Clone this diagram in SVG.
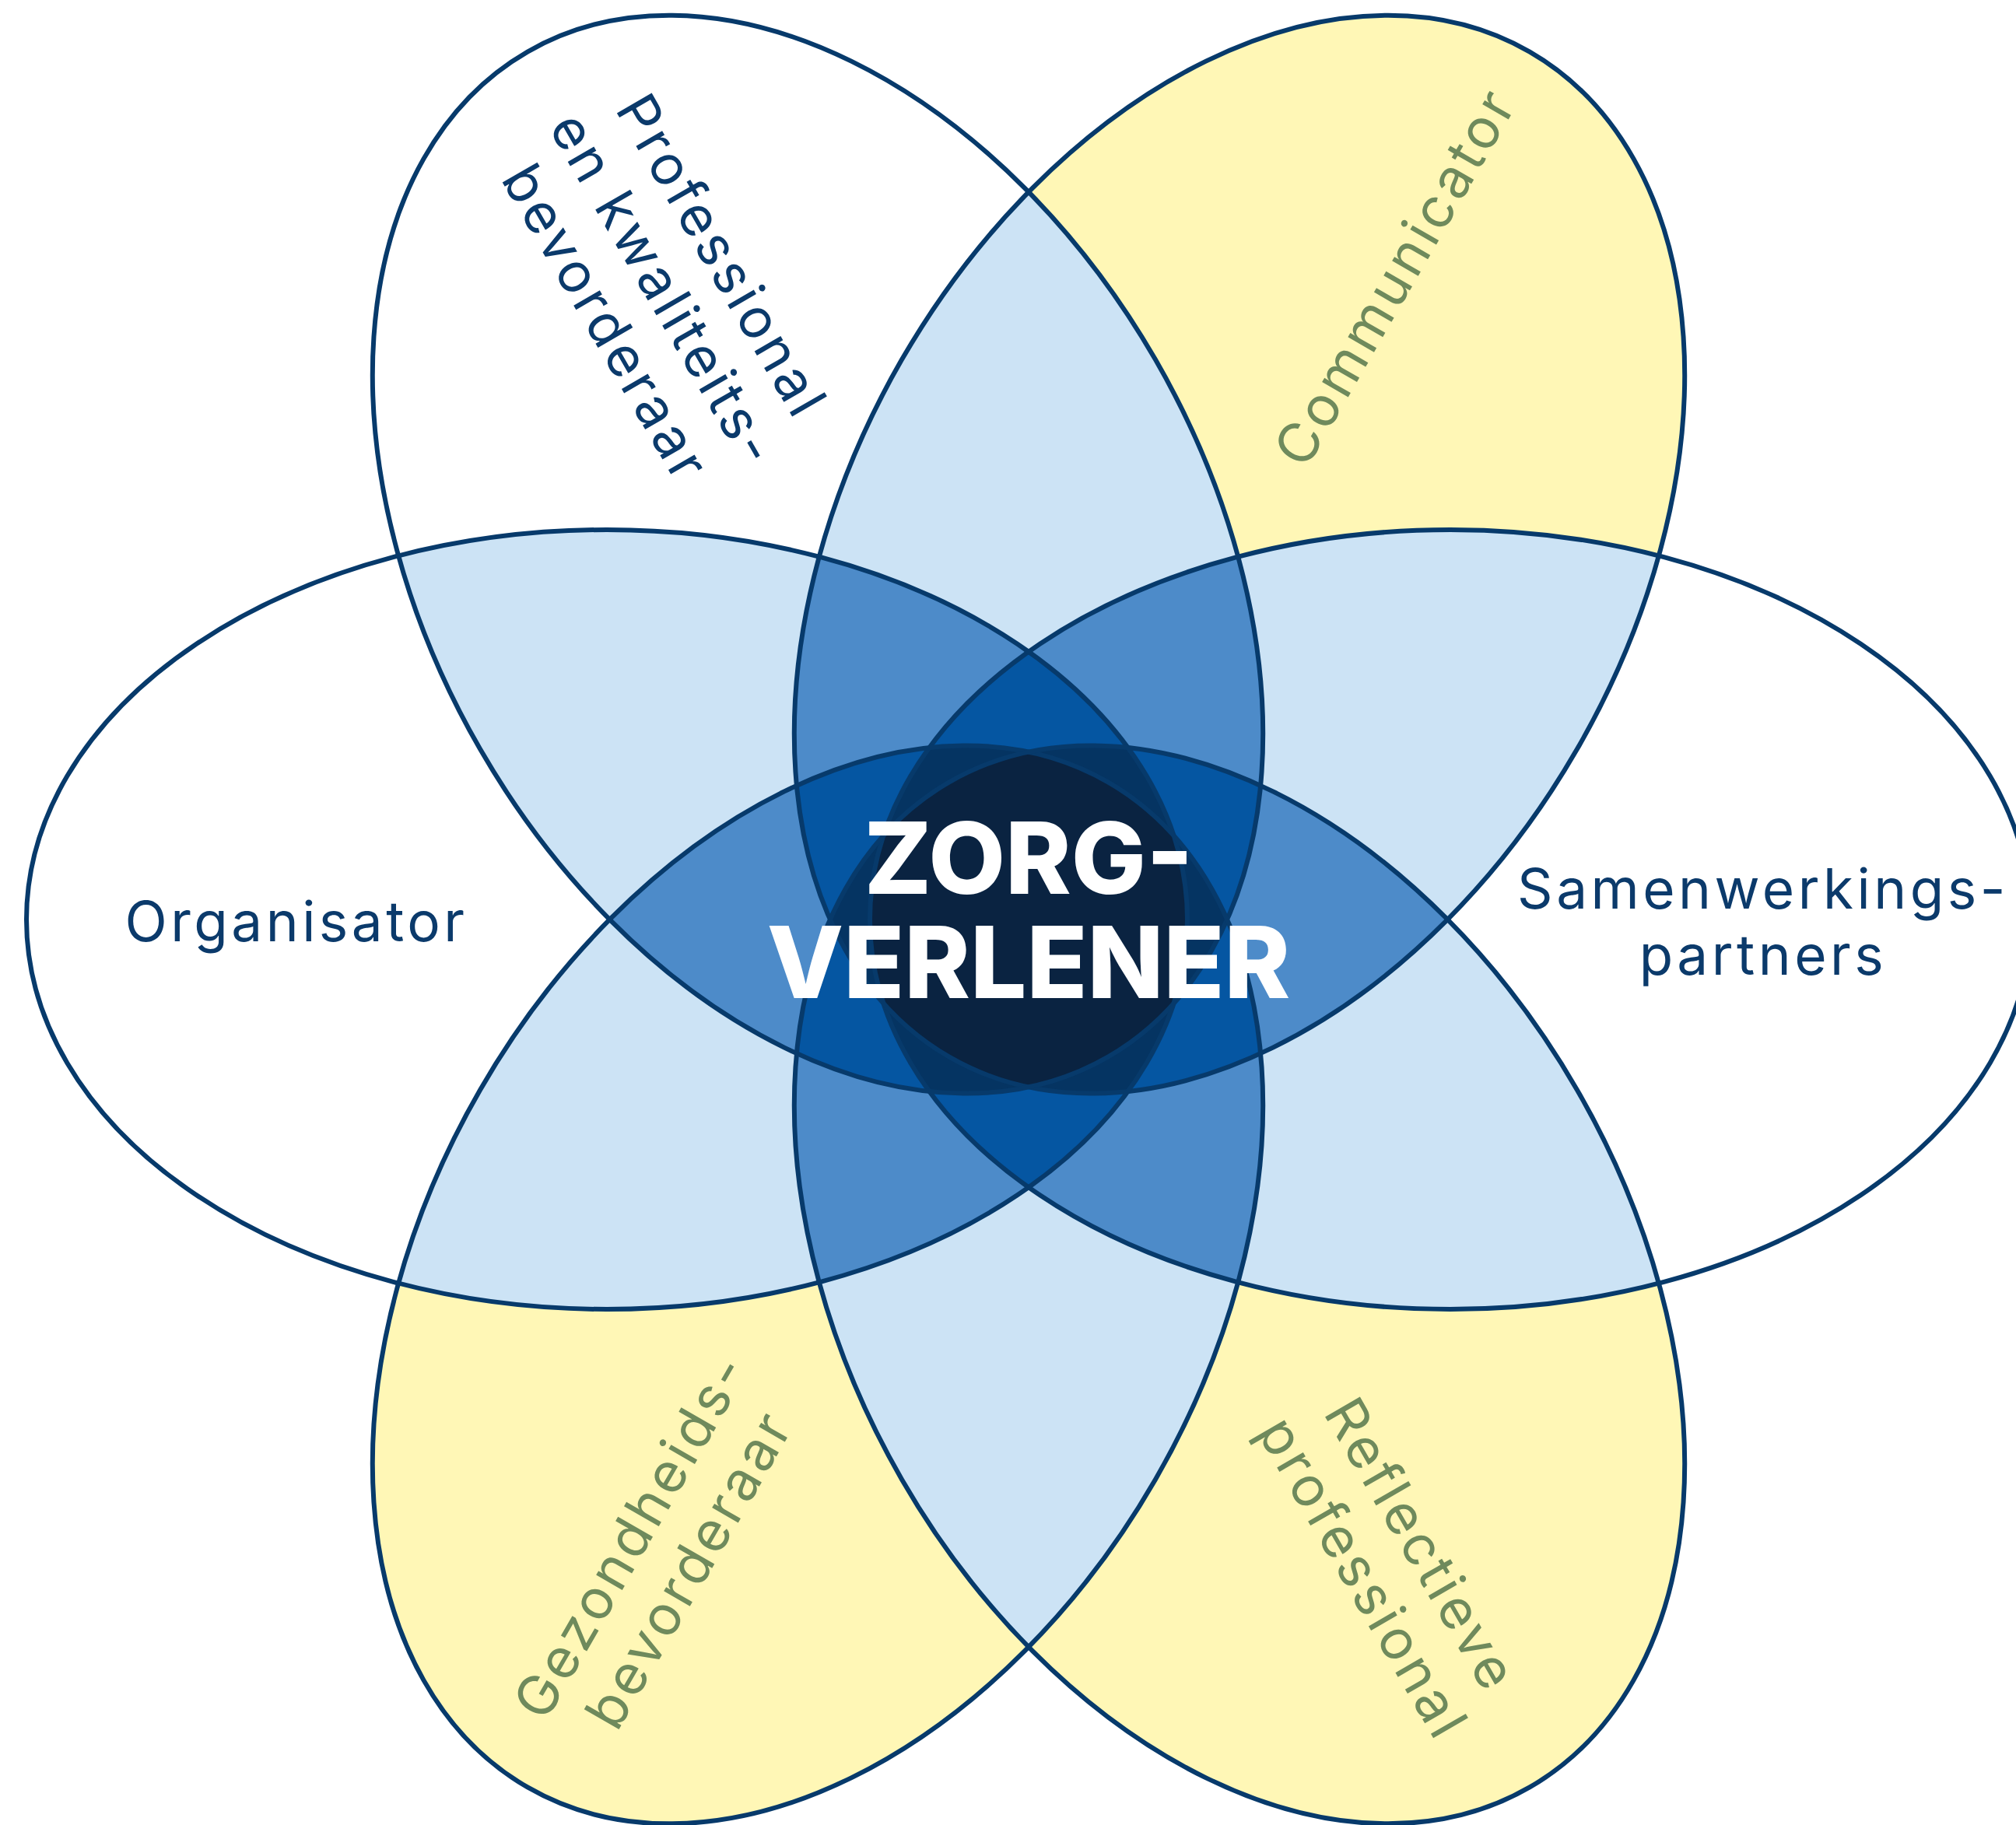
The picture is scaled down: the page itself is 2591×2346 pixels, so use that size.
<svg xmlns="http://www.w3.org/2000/svg" width="2591" height="2346" viewBox="0 0 2591 2346">
<style>
.w{fill:#ffffff}
.y{fill:#fff7b6}
.l2{fill:#cce3f5}
.l3{fill:#4d8bc9}
.l4{fill:#0556a2}
.l5{fill:#053462}
.l6{fill:#0a2341}
.ol{fill:none;stroke:#073a6b;stroke-width:6}
.lbl{font-family:Inter,"Noto Sans",sans-serif;font-size:71px;letter-spacing:4.5px;text-anchor:middle}
.navy{fill:#0b3a6b}
.green{fill:#6f8a5c}
.ctr{font-family:Inter,"Noto Sans",sans-serif;font-weight:800;font-size:128px;fill:#ffffff;text-anchor:middle}
</style>
<defs>
<ellipse id="e0" rx="746" ry="501" transform="translate(1864 1182)"/>
<ellipse id="e1" rx="746" ry="501" transform="translate(1593 712.61) rotate(-60)"/>
<ellipse id="e2" rx="746" ry="501" transform="translate(1051 712.61) rotate(60)"/>
<ellipse id="e3" rx="746" ry="501" transform="translate(780 1182)"/>
<ellipse id="e4" rx="746" ry="501" transform="translate(1051 1651.39) rotate(-60)"/>
<ellipse id="e5" rx="746" ry="501" transform="translate(1593 1651.39) rotate(60)"/>
<clipPath id="c0"><use href="#e0"/></clipPath>
<clipPath id="c1"><use href="#e1"/></clipPath>
<clipPath id="c2"><use href="#e2"/></clipPath>
<clipPath id="c3"><use href="#e3"/></clipPath>
<clipPath id="c4"><use href="#e4"/></clipPath>
<clipPath id="c5"><use href="#e5"/></clipPath>
</defs>
<rect width="2591" height="2346" fill="#ffffff"/>
<g id="petal-fills">
<use href="#e0" class="w"/>
<use href="#e1" class="y"/>
<use href="#e2" class="w"/>
<use href="#e3" class="w"/>
<use href="#e4" class="y"/>
<use href="#e5" class="y"/>
</g>
<g id="overlaps">
<g class="l2">
<use href="#e1" clip-path="url(#c0)"/>
<use href="#e2" clip-path="url(#c0)"/>
<use href="#e3" clip-path="url(#c0)"/>
<use href="#e4" clip-path="url(#c0)"/>
<use href="#e5" clip-path="url(#c0)"/>
<use href="#e2" clip-path="url(#c1)"/>
<use href="#e3" clip-path="url(#c1)"/>
<use href="#e4" clip-path="url(#c1)"/>
<use href="#e5" clip-path="url(#c1)"/>
<use href="#e3" clip-path="url(#c2)"/>
<use href="#e4" clip-path="url(#c2)"/>
<use href="#e5" clip-path="url(#c2)"/>
<use href="#e4" clip-path="url(#c3)"/>
<use href="#e5" clip-path="url(#c3)"/>
<use href="#e5" clip-path="url(#c4)"/>
</g>
<g class="l3">
<g clip-path="url(#c0)"><use href="#e2" clip-path="url(#c1)"/></g>
<g clip-path="url(#c0)"><use href="#e3" clip-path="url(#c1)"/></g>
<g clip-path="url(#c0)"><use href="#e4" clip-path="url(#c1)"/></g>
<g clip-path="url(#c0)"><use href="#e5" clip-path="url(#c1)"/></g>
<g clip-path="url(#c0)"><use href="#e3" clip-path="url(#c2)"/></g>
<g clip-path="url(#c0)"><use href="#e4" clip-path="url(#c2)"/></g>
<g clip-path="url(#c0)"><use href="#e5" clip-path="url(#c2)"/></g>
<g clip-path="url(#c0)"><use href="#e4" clip-path="url(#c3)"/></g>
<g clip-path="url(#c0)"><use href="#e5" clip-path="url(#c3)"/></g>
<g clip-path="url(#c0)"><use href="#e5" clip-path="url(#c4)"/></g>
<g clip-path="url(#c1)"><use href="#e3" clip-path="url(#c2)"/></g>
<g clip-path="url(#c1)"><use href="#e4" clip-path="url(#c2)"/></g>
<g clip-path="url(#c1)"><use href="#e5" clip-path="url(#c2)"/></g>
<g clip-path="url(#c1)"><use href="#e4" clip-path="url(#c3)"/></g>
<g clip-path="url(#c1)"><use href="#e5" clip-path="url(#c3)"/></g>
<g clip-path="url(#c1)"><use href="#e5" clip-path="url(#c4)"/></g>
<g clip-path="url(#c2)"><use href="#e4" clip-path="url(#c3)"/></g>
<g clip-path="url(#c2)"><use href="#e5" clip-path="url(#c3)"/></g>
<g clip-path="url(#c2)"><use href="#e5" clip-path="url(#c4)"/></g>
<g clip-path="url(#c3)"><use href="#e5" clip-path="url(#c4)"/></g>
</g>
<g class="l4">
<g clip-path="url(#c0)"><g clip-path="url(#c1)"><use href="#e3" clip-path="url(#c2)"/></g></g>
<g clip-path="url(#c0)"><g clip-path="url(#c1)"><use href="#e4" clip-path="url(#c2)"/></g></g>
<g clip-path="url(#c0)"><g clip-path="url(#c1)"><use href="#e5" clip-path="url(#c2)"/></g></g>
<g clip-path="url(#c0)"><g clip-path="url(#c1)"><use href="#e4" clip-path="url(#c3)"/></g></g>
<g clip-path="url(#c0)"><g clip-path="url(#c1)"><use href="#e5" clip-path="url(#c3)"/></g></g>
<g clip-path="url(#c0)"><g clip-path="url(#c1)"><use href="#e5" clip-path="url(#c4)"/></g></g>
<g clip-path="url(#c0)"><g clip-path="url(#c2)"><use href="#e4" clip-path="url(#c3)"/></g></g>
<g clip-path="url(#c0)"><g clip-path="url(#c2)"><use href="#e5" clip-path="url(#c3)"/></g></g>
<g clip-path="url(#c0)"><g clip-path="url(#c2)"><use href="#e5" clip-path="url(#c4)"/></g></g>
<g clip-path="url(#c0)"><g clip-path="url(#c3)"><use href="#e5" clip-path="url(#c4)"/></g></g>
<g clip-path="url(#c1)"><g clip-path="url(#c2)"><use href="#e4" clip-path="url(#c3)"/></g></g>
<g clip-path="url(#c1)"><g clip-path="url(#c2)"><use href="#e5" clip-path="url(#c3)"/></g></g>
<g clip-path="url(#c1)"><g clip-path="url(#c2)"><use href="#e5" clip-path="url(#c4)"/></g></g>
<g clip-path="url(#c1)"><g clip-path="url(#c3)"><use href="#e5" clip-path="url(#c4)"/></g></g>
<g clip-path="url(#c2)"><g clip-path="url(#c3)"><use href="#e5" clip-path="url(#c4)"/></g></g>
</g>
<g class="l5">
<g clip-path="url(#c0)"><g clip-path="url(#c1)"><g clip-path="url(#c2)"><use href="#e4" clip-path="url(#c3)"/></g></g></g>
<g clip-path="url(#c0)"><g clip-path="url(#c1)"><g clip-path="url(#c2)"><use href="#e5" clip-path="url(#c3)"/></g></g></g>
<g clip-path="url(#c0)"><g clip-path="url(#c1)"><g clip-path="url(#c2)"><use href="#e5" clip-path="url(#c4)"/></g></g></g>
<g clip-path="url(#c0)"><g clip-path="url(#c1)"><g clip-path="url(#c3)"><use href="#e5" clip-path="url(#c4)"/></g></g></g>
<g clip-path="url(#c0)"><g clip-path="url(#c2)"><g clip-path="url(#c3)"><use href="#e5" clip-path="url(#c4)"/></g></g></g>
<g clip-path="url(#c1)"><g clip-path="url(#c2)"><g clip-path="url(#c3)"><use href="#e5" clip-path="url(#c4)"/></g></g></g>
</g>
<g class="l6">
<g clip-path="url(#c0)"><g clip-path="url(#c1)"><g clip-path="url(#c2)"><g clip-path="url(#c3)"><use href="#e5" clip-path="url(#c4)"/></g></g></g></g>
</g>
</g>
<g id="petal-samenwerkingspartners">
<use href="#e0" class="ol"/>
<text class="lbl navy" x="2266" y="1168">Samenwerkings-</text>
<text class="lbl navy" x="2266" y="1253">partners</text>
</g>
<g id="petal-communicator">
<use href="#e1" class="ol"/>
<text class="lbl green" transform="translate(1815 368) rotate(-60)">Communicator</text>
</g>
<g id="petal-professional">
<use href="#e2" class="ol"/>
<g transform="translate(832 385) rotate(60)">
<text class="lbl navy" y="-86">Professional</text>
<text class="lbl navy" y="0">en kwaliteits-</text>
<text class="lbl navy" y="86">bevorderaar</text>
</g>
</g>
<g id="petal-organisator">
<use href="#e3" class="ol"/>
<text class="lbl navy" x="381" y="1210">Organisator</text>
</g>
<g id="petal-gezondheidsbevorderaar">
<use href="#e4" class="ol"/>
<g transform="translate(870 2008) rotate(-60)">
<text class="lbl green" y="-43">Gezondheids-</text>
<text class="lbl green" y="43">bevorderaar</text>
</g>
</g>
<g id="petal-reflectieve-professional">
<use href="#e5" class="ol"/>
<g transform="translate(1768 2020) rotate(60)">
<text class="lbl green" y="-43">Reflectieve</text>
<text class="lbl green" y="43">professional</text>
</g>
</g>
<g id="center">
<text class="ctr"><tspan x="1322" y="1149">ZORG-</tspan><tspan x="1322" y="1283">VERLENER</tspan></text>
</g>
</svg>
